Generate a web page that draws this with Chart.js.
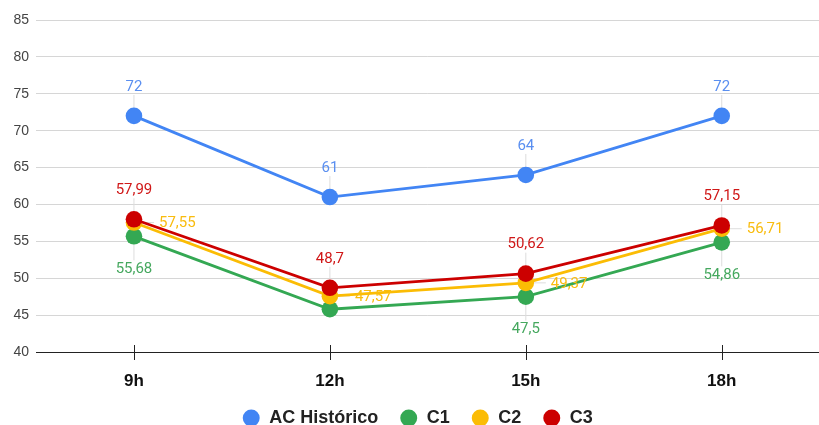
<!DOCTYPE html>
<html>
<head>
<meta charset="utf-8">
<script src="https://cdn.jsdelivr.net/npm/chart.js@4"></script>
<style>
  html, body { margin: 0; padding: 0; background: #fff; overflow: hidden; }
  #wrap { width: 819px; height: 425px; overflow: hidden; position: relative; }
  #chart { display: block; }
</style>
</head>
<body>
<div id="wrap"><canvas id="chart" width="828" height="425"></canvas></div>
<script>
// Hours of the day on the x axis
const categories = ['9h', '12h', '15h', '18h'];

// Series values
const acHistorico = [72, 61, 64, 72];
const c1 = [55.68, 45.8, 47.5, 54.86];
const c2 = [57.55, 47.57, 49.37, 56.71];
const c3 = [57.99, 48.7, 50.62, 57.15];

// Y axis ticks
const yTicks = [40, 45, 50, 55, 60, 65, 70, 75, 80, 85];

// Where each value label sits relative to its point (null = no label)
const labelPlacement = {
  'AC Histórico': ['top', 'top', 'top', 'top'],
  'C1': ['bottom', null, 'bottom', 'bottom'],
  'C2': ['right', 'right', 'right', 'right'],
  'C3': ['top', 'top', 'top', 'top']
};

const FONT = 'Roboto, "Noto Sans", Arial, sans-serif';
const AXIS_FONT = '"Liberation Sans", Arial, sans-serif';

function fmt(v) { return String(v).replace('.', ','); }

function labelAnchor(pt, where) {
  if (where === 'top') return { x: pt.x, y: pt.y - 29, align: 'center', lx: pt.x, ly0: pt.y, ly1: pt.y - 21, lx1: pt.x };
  if (where === 'bottom') return { x: pt.x, y: pt.y + 33, align: 'center', lx: pt.x, ly0: pt.y, ly1: pt.y + 24, lx1: pt.x };
  return { x: pt.x + 25, y: pt.y + 1, align: 'left', lx: pt.x, ly0: pt.y, ly1: pt.y, lx1: pt.x + 20 };
}

// Faint leader lines from points to their labels, and the value labels themselves
const valueLabels = {
  id: 'valueLabels',
  beforeDatasetsDraw(chart) {
    const ctx = chart.ctx;
    ctx.save();
    ctx.strokeStyle = '#dddddd';
    ctx.lineWidth = 1;
    chart.data.datasets.forEach((ds, di) => {
      const meta = chart.getDatasetMeta(di);
      const places = labelPlacement[ds.label];
      meta.data.forEach((pt, i) => {
        const where = places[i];
        if (!where) return;
        const a = labelAnchor(pt, where);
        ctx.beginPath();
        ctx.moveTo(a.lx, a.ly0);
        ctx.lineTo(a.lx1, a.ly1);
        ctx.stroke();
      });
    });
    // tick marks crossing the baseline
    const xs = chart.scales.x;
    const bottom = chart.chartArea.bottom;
    ctx.strokeStyle = '#222222';
    ctx.lineWidth = 1;
    xs.ticks.forEach((t, i) => {
      const x = Math.round(xs.getPixelForTick(i)) + 0.5;
      ctx.beginPath();
      ctx.moveTo(x, bottom - 7);
      ctx.lineTo(x, bottom + 8);
      ctx.stroke();
    });
    ctx.restore();
  },
  afterDatasetsDraw(chart) {
    const ctx = chart.ctx;
    ctx.save();
    ctx.font = '15px ' + FONT;
    ctx.textBaseline = 'middle';
    chart.data.datasets.forEach((ds, di) => {
      const meta = chart.getDatasetMeta(di);
      const places = labelPlacement[ds.label];
      meta.data.forEach((pt, i) => {
        const where = places[i];
        if (!where) return;
        const a = labelAnchor(pt, where);
        ctx.fillStyle = ds.labelColor;
        ctx.textAlign = a.align;
        ctx.fillText(fmt(ds.data[i]), a.x, a.y);
      });
    });
    ctx.restore();
  }
};

function series(label, data, color, labelColor, order) {
  return {
    label, data,
    borderColor: color,
    backgroundColor: color,
    pointBackgroundColor: color,
    pointBorderColor: color,
    borderWidth: 2.8,
    pointRadius: 8.3,
    pointHoverRadius: 8.3,
    pointBorderWidth: 0,
    tension: 0,
    labelColor,
    order
  };
}

new Chart(document.getElementById('chart'), {
  type: 'line',
  data: {
    labels: categories,
    datasets: [
      series('AC Histórico', acHistorico, '#4285F4', '#5a8ff0', 3),
      series('C1', c1, '#34A853', '#46a85f', 2),
      series('C2', c2, '#FBBC04', '#f9bc0f', 1),
      series('C3', c3, '#CC0000', '#d01818', 0)
    ]
  },
  options: {
    responsive: false,
    animation: false,
    events: [],
    layout: { padding: { top: 20, left: 0, right: -7, bottom: -12 } },
    plugins: {
      tooltip: { enabled: false },
      legend: {
        position: 'bottom',
        labels: {
          usePointStyle: true,
          pointStyle: 'circle',
          boxWidth: 23,
          boxHeight: 12,
          padding: 21.5,
          color: '#222222',
          font: { family: AXIS_FONT, size: 18, weight: 'bold' },
          sort: (a, b) => a.datasetIndex - b.datasetIndex
        }
      }
    },
    scales: {
      x: {
        type: 'category',
        offset: true,
        grid: { display: false, drawTicks: false },
        border: { display: true, color: '#222222', width: 1 },
        ticks: {
          padding: 19,
          color: '#111111',
          font: { family: AXIS_FONT, size: 17, weight: 'bold' }
        },
        afterFit(scale) { scale.height = 35.5; }
      },
      y: {
        min: yTicks[0],
        max: yTicks[yTicks.length - 1],
        afterBuildTicks(scale) { scale.ticks = yTicks.map(v => ({ value: v })); },
        grid: {
          drawTicks: false,
          color: ctx => (ctx.tick && ctx.tick.value === yTicks[0]) ? '#222222' : '#d6d6d6'
        },
        border: { display: false },
        ticks: {
          padding: 7,
          color: '#444444',
          font: { family: AXIS_FONT, size: 14 }
        },
        afterFit(scale) { scale.width = 36; }
      }
    }
  },
  plugins: [valueLabels]
});
</script>
</body>
</html>
